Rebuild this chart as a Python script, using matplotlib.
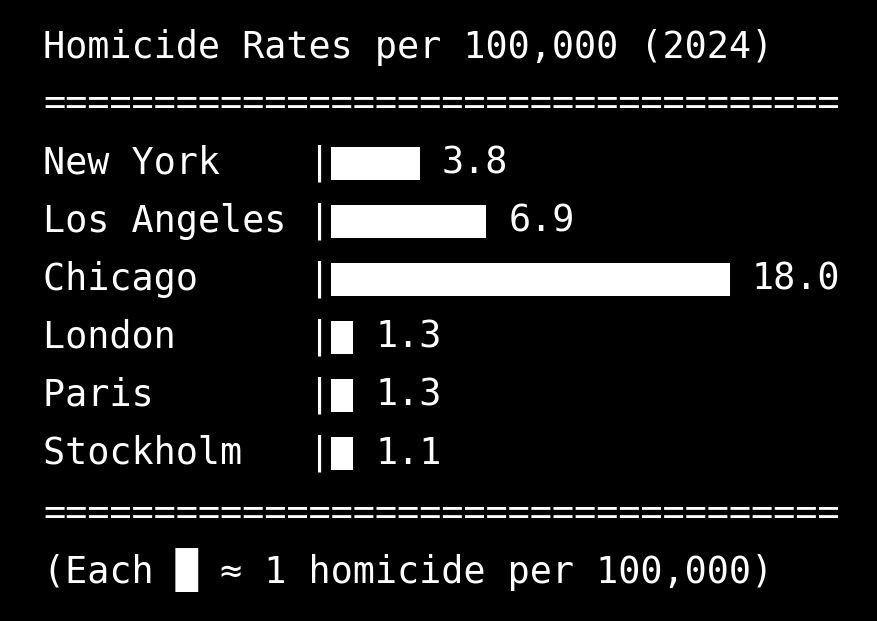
import matplotlib.pyplot as plt
from matplotlib.patches import Rectangle

title = "Homicide Rates per 100,000 (2024)"
cities = ["New York", "Los Angeles", "Chicago", "London", "Paris", "Stockholm"]
rates = [3.8, 6.9, 18.0, 1.3, 1.3, 1.1]
footer = "(Each █ ≈ 1 homicide per 100,000)"

W, H = 877, 621
cw = 22.15          # character advance in px
fs = cw / 0.602 * 72 / 100   # DejaVu Sans Mono advance is 0.602 em
x0 = 43
line_h = 58

fig = plt.figure(figsize=(W / 100, H / 100), dpi=100, facecolor="black")
ax = fig.add_axes([0, 0, 1, 1])
ax.set_xlim(0, W)
ax.set_ylim(H, 0)
ax.axis("off")
ax.set_facecolor("black")

kw = dict(color="white", fontsize=fs, family="DejaVu Sans Mono", va="center", ha="left")

ax.text(x0, 47, title, **kw)
ax.text(x0, 104, "=" * 36, **kw)

bar_left = x0 + 13 * cw
for i, (city, rate) in enumerate(zip(cities, rates)):
    y = 163 + i * line_h
    ax.text(x0, y, city.ljust(12) + "|", **kw)
    n = round(rate)
    ax.barh(y, n * cw, left=bar_left, height=33, color="white")
    ax.text(bar_left + (n + 1) * cw, y, f"{rate:.1f}", **kw)

ax.text(x0, 513, "=" * 36, **kw)
ax.text(x0, 570, footer, **kw)

fig.savefig("out.png", dpi=100, facecolor="black")
